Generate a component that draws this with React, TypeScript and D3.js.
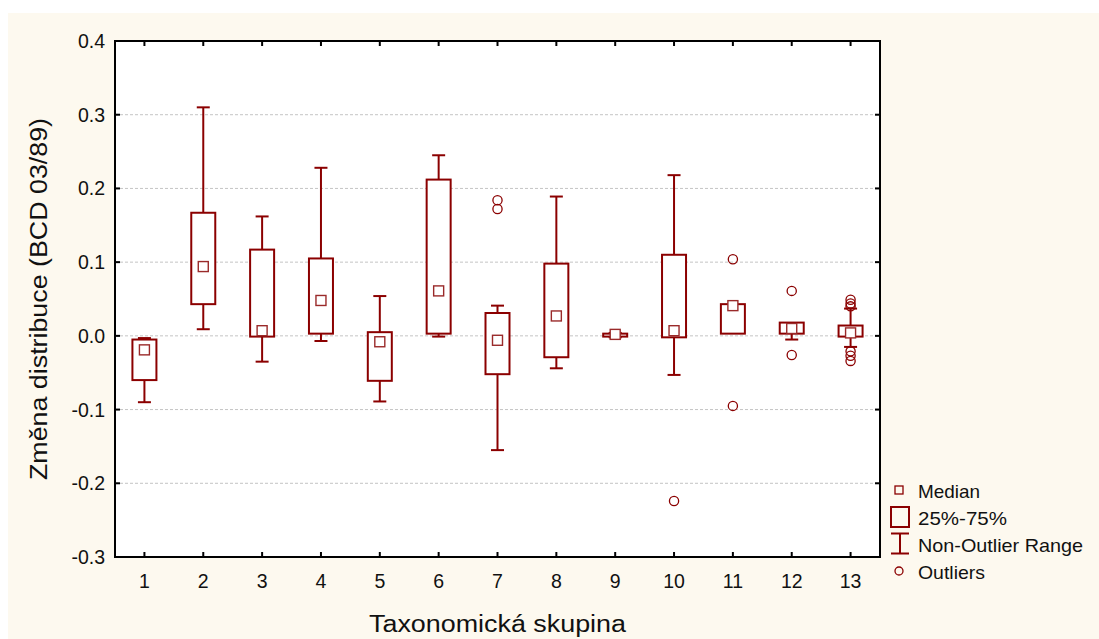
import React from "react";
import * as d3 from "d3";

const categories = [1, 2, 3, 4, 5, 6, 7, 8, 9, 10, 11, 12, 13];
const whiskerLow = [-0.090, 0.009, -0.035, -0.007, -0.089, -0.001, -0.155, -0.044, -0.002, -0.053, 0.003, -0.005, -0.015];
const q1 = [-0.060, 0.043, -0.001, 0.003, -0.061, 0.003, -0.052, -0.029, -0.001, -0.002, 0.003, 0.003, -0.001];
const medians = [-0.019, 0.094, 0.007, 0.048, -0.008, 0.061, -0.006, 0.027, 0.002, 0.007, 0.041, 0.010, 0.004];
const q3 = [-0.005, 0.167, 0.117, 0.105, 0.005, 0.212, 0.031, 0.098, 0.003, 0.110, 0.043, 0.018, 0.014];
const whiskerHigh = [-0.003, 0.310, 0.162, 0.228, 0.054, 0.245, 0.041, 0.189, 0.004, 0.218, 0.043, 0.018, 0.037];
const outlierCats = [7, 7, 10, 11, 11, 12, 12, 13, 13, 13, 13, 13, 13];
const outlierVals = [0.184, 0.172, -0.224, 0.104, -0.095, 0.061, -0.026, 0.049, 0.044, 0.040, -0.021, -0.027, -0.034];
const yTicks = [0.4, 0.3, 0.2, 0.1, 0.0, -0.1, -0.2, -0.3];
const legendLabels = ["Median", "25%-75%", "Non-Outlier Range", "Outliers"];
const yTitle = "Změna distribuce (BCD 03/89)";
const xTitle = "Taxonomická skupina";

const RED = "#8b0000";
const FONT = "'Liberation Sans', Arial, sans-serif";

export default function App() {
  const left = 115, right = 880, top = 41, bottom = 557;
  const x = d3.scaleLinear().domain([0.5, 13.5]).range([left, right]);
  const y = d3.scaleLinear().domain([-0.3, 0.4]).range([bottom, top]);
  const boxW = 24, capW = 13, medS = 10;
  const fmt = (t: number) => d3.format(".1f")(t).replace("\u2212", "-");

  return (
    <svg width={1099} height={639} style={{ position: "absolute", left: 0, top: 0 }} fontFamily={FONT}>
      <rect x={8} y={13} width={1091} height={626} fill="#fdf9ef" />
      <rect x={left} y={top} width={right - left} height={bottom - top} fill="#ffffff" />
      {yTicks.filter(t => t < 0.39 && t > -0.29).map(t => (
        <line key={"g" + t} x1={left} x2={right} y1={y(t)} y2={y(t)} stroke="#c4c4c4" strokeWidth={1} strokeDasharray="3,2" />
      ))}
      {yTicks.map(t => (
        <g key={"yt" + t}>
          <line x1={left} x2={left + 5} y1={y(t)} y2={y(t)} stroke="#000" strokeWidth={2} />
          <line x1={right - 5} x2={right} y1={y(t)} y2={y(t)} stroke="#000" strokeWidth={2} />
          <text x={105} y={y(t) + 7} textAnchor="end" fontSize={19.5} fill="#111">{fmt(t)}</text>
        </g>
      ))}
      {categories.map(c => (
        <g key={"xt" + c}>
          <line x1={x(c)} x2={x(c)} y1={bottom - 5} y2={bottom} stroke="#000" strokeWidth={2} />
          <line x1={x(c)} x2={x(c)} y1={top} y2={top + 5} stroke="#000" strokeWidth={2} />
          <text x={x(c)} y={588} textAnchor="middle" fontSize={19.5} fill="#111">{c}</text>
        </g>
      ))}
      {categories.map((c, i) => {
        const cx = x(c);
        return (
          <g key={"b" + c} stroke={RED} strokeWidth={2} fill="none">
            {whiskerHigh[i] > q3[i] && (
              <>
                <line x1={cx} x2={cx} y1={y(q3[i])} y2={y(whiskerHigh[i])} />
                <line x1={cx - capW / 2} x2={cx + capW / 2} y1={y(whiskerHigh[i])} y2={y(whiskerHigh[i])} />
              </>
            )}
            {whiskerLow[i] < q1[i] && (
              <>
                <line x1={cx} x2={cx} y1={y(q1[i])} y2={y(whiskerLow[i])} />
                <line x1={cx - capW / 2} x2={cx + capW / 2} y1={y(whiskerLow[i])} y2={y(whiskerLow[i])} />
              </>
            )}
            <rect x={cx - boxW / 2} y={y(q3[i])} width={boxW} height={Math.max(1, y(q1[i]) - y(q3[i]))} fill="#fff" />
          </g>
        );
      })}
      {categories.map((c, i) => (
        <rect key={"m" + c} x={x(c) - medS / 2} y={y(medians[i]) - medS / 2} width={medS} height={medS}
          fill="#fff" stroke="#9a2a2a" strokeWidth={1.4} />
      ))}
      {outlierCats.map((c, i) => (
        <circle key={"o" + i} cx={x(c)} cy={y(outlierVals[i])} r={4.6} fill="none" stroke={RED} strokeWidth={1.3} />
      ))}
      <rect x={left} y={top} width={right - left} height={bottom - top} fill="none" stroke="#000" strokeWidth={2} />
      <text transform={`translate(47,${(top + bottom) / 2}) rotate(-90)`} textAnchor="middle" fontSize={23} fill="#111"
        textLength={362} lengthAdjust="spacingAndGlyphs">{yTitle}</text>
      <text x={(left + right) / 2} y={632} textAnchor="middle" fontSize={23} fill="#111"
        textLength={257} lengthAdjust="spacingAndGlyphs">{xTitle}</text>
      <g fontSize={19} fill="#111">
        <rect x={895} y={486} width={8} height={8} fill="none" stroke={RED} strokeWidth={1.3} />
        <text x={918} y={497.5} textLength={62} lengthAdjust="spacingAndGlyphs">{legendLabels[0]}</text>
        <rect x={891} y={507} width={18} height={20} fill="none" stroke={RED} strokeWidth={2} />
        <text x={918} y={524.5} textLength={89} lengthAdjust="spacingAndGlyphs">{legendLabels[1]}</text>
        <g stroke={RED} strokeWidth={2}>
          <line x1={891} x2={909} y1={533.5} y2={533.5} />
          <line x1={900} x2={900} y1={533.5} y2={553.5} />
          <line x1={891} x2={909} y1={553.5} y2={553.5} />
        </g>
        <text x={918} y={551.5} textLength={165} lengthAdjust="spacingAndGlyphs">{legendLabels[2]}</text>
        <circle cx={899} cy={571} r={4} fill="none" stroke={RED} strokeWidth={1.3} />
        <text x={918} y={579} textLength={67} lengthAdjust="spacingAndGlyphs">{legendLabels[3]}</text>
      </g>
    </svg>
  );
}
